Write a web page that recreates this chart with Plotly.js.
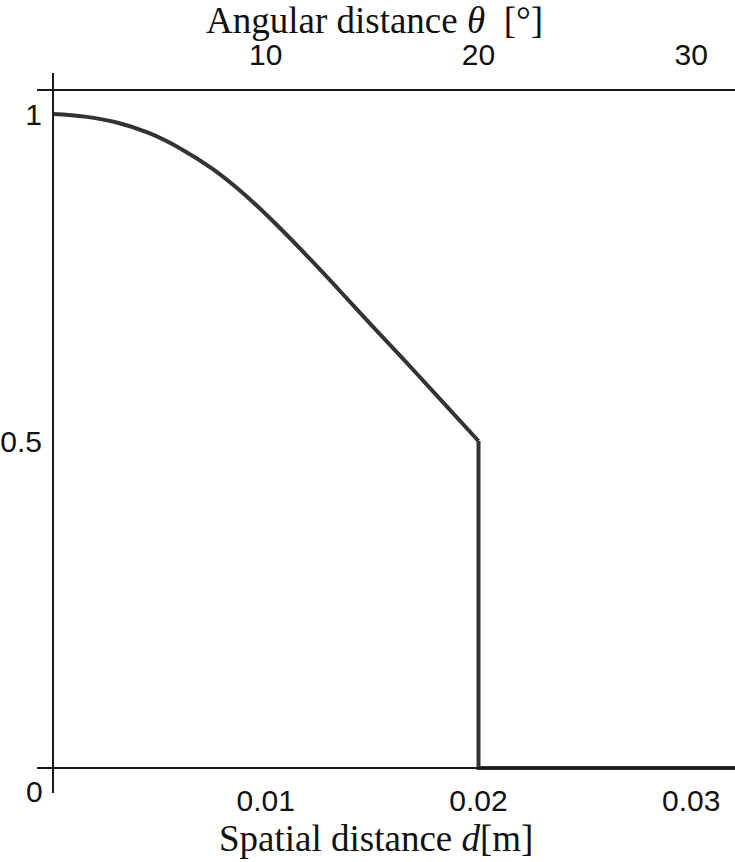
<!DOCTYPE html>
<html>
<head>
<meta charset="utf-8">
<script src="https://cdn.plot.ly/plotly-3.0.1.min.js"></script>
<style>
  html, body { margin: 0; padding: 0; background: #fff; }
  #chart { width: 735px; height: 862px; }
</style>
</head>
<body>
<div id="chart"></div>
<script>
// spatial distance d [m] and normalised value
const distance = [0, 0.0015, 0.003, 0.0045, 0.006, 0.0075, 0.009, 0.0105, 0.012,
  0.0135, 0.015, 0.0165, 0.018, 0.0200, 0.0200, 0.0321];
const value = [1, 0.996, 0.987, 0.971, 0.947, 0.916, 0.877, 0.831, 0.781,
  0.729, 0.676, 0.624, 0.571, 0.500, 0, 0];
// index of the point where the smooth part ends and the step begins
const stepAt = 13;

const dTicks = [0.01, 0.02, 0.03];
const dTickText = ['0.01', '0.02', '0.03'];
const thetaTicks = [10, 20, 30];
const yTicks = [0.5, 1];
const yTickText = ['0.5', '1'];
const originLabel = '0';

// 0.01 m lines up with 10°
const degPerMetre = 1000;

const tickFont = { family: 'Liberation Sans, Arial, sans-serif', size: 30, color: '#111' };
const titleFont = { family: 'Liberation Serif, Times New Roman, serif', size: 37, color: '#111' };
const lineColor = '#1a1a1a';
const curveColor = '#333333';

const xRange = [-0.000752, 0.032056];

const data = [
  {
    // smooth falling part
    x: distance.slice(0, stepAt + 1),
    y: value.slice(0, stepAt + 1),
    mode: 'lines',
    line: { color: curveColor, width: 4, shape: 'spline', smoothing: 1 },
    hoverinfo: 'skip',
    type: 'scatter'
  },
  {
    // the drop to zero and the flat tail
    x: distance.slice(stepAt),
    y: value.slice(stepAt),
    mode: 'lines',
    line: { color: curveColor, width: 4 },
    hoverinfo: 'skip',
    type: 'scatter'
  },
  {
    // invisible copy so the top angular axis gets drawn
    x: distance.map(d => d * degPerMetre),
    y: value,
    xaxis: 'x2',
    mode: 'lines',
    line: { color: 'rgba(0,0,0,0)', width: 0 },
    hoverinfo: 'skip',
    type: 'scatter'
  }
];

const layout = {
  width: 735,
  height: 862,
  margin: { l: 37, r: 0, t: 73, b: 69 },
  paper_bgcolor: '#fff',
  plot_bgcolor: '#fff',
  showlegend: false,
  xaxis: {
    range: xRange,
    anchor: 'free',
    position: 0.0347,
    showgrid: false,
    zeroline: false,
    showline: true,
    linecolor: lineColor,
    linewidth: 2,
    tickvals: dTicks,
    ticktext: dTickText,
    ticks: '',
    ticklabelstandoff: 6,
    tickfont: tickFont
  },
  xaxis2: {
    range: xRange.map(d => d * degPerMetre),
    overlaying: 'x',
    side: 'top',
    anchor: 'free',
    position: 0.9757,
    showgrid: false,
    zeroline: false,
    showline: true,
    linecolor: lineColor,
    linewidth: 2,
    tickvals: thetaTicks,
    ticks: '',
    ticklabelstandoff: 12,
    tickfont: tickFont
  },
  yaxis: {
    range: [-0.0382, 1.0627],
    anchor: 'free',
    position: 0.0229,
    showgrid: false,
    zeroline: false,
    showline: true,
    linecolor: lineColor,
    linewidth: 2,
    tickvals: yTicks,
    ticktext: yTickText,
    ticks: '',
    ticklabelstandoff: 4,
    tickfont: tickFont
  },
  annotations: [
    {
      text: 'Angular distance <i>θ</i>  [°]',
      xref: 'paper', yref: 'paper',
      x: 0.483, y: 1.0735,
      xanchor: 'center', yanchor: 'middle',
      showarrow: false,
      font: titleFont
    },
    {
      text: 'Spatial distance <i>d</i>[m]',
      xref: 'paper', yref: 'paper',
      x: 0.486, y: -0.0625,
      xanchor: 'center', yanchor: 'middle',
      showarrow: false,
      font: titleFont
    },
    {
      text: originLabel,
      xref: 'paper', yref: 'paper',
      x: -0.004, y: 0.0014,
      xanchor: 'center', yanchor: 'middle',
      showarrow: false,
      font: tickFont
    }
  ]
};

Plotly.newPlot('chart', data, layout, { displayModeBar: false, staticPlot: true });
</script>
</body>
</html>
